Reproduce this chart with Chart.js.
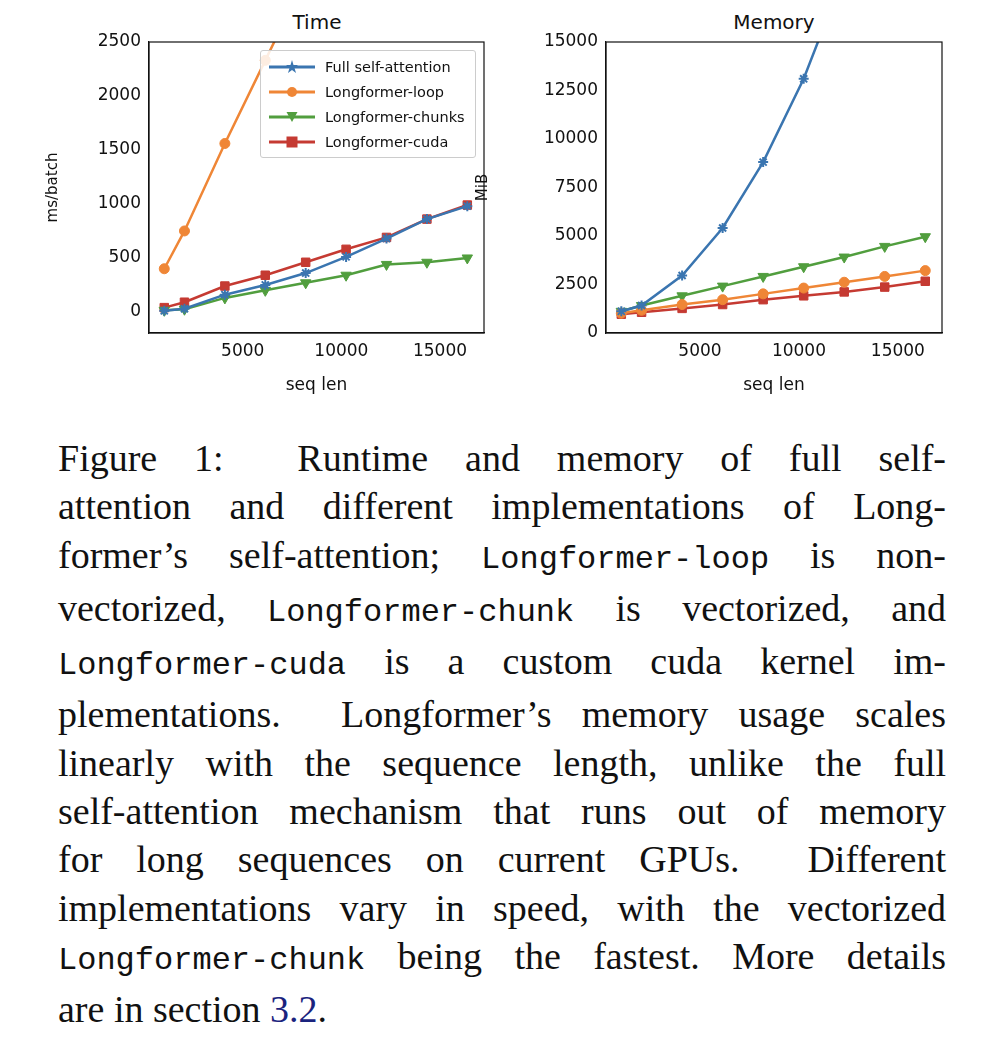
<!DOCTYPE html>
<html>
<head>
<meta charset="utf-8">
<script src="https://cdn.jsdelivr.net/npm/chart.js@4.4.0/dist/chart.umd.min.js"></script>
<style>
  body { margin: 0; background: #fff; width: 986px; height: 1060px; position: relative; font-family: "DejaVu Sans", sans-serif; }
  .box { position: absolute; }
  .titulo { position: absolute; font-size: 20px; color: #111; text-align: center; }
  #legenda { position: absolute; left: 260px; top: 50px; width: 214px; border: 1px solid #ccc; border-radius: 3px; background: rgba(255,255,255,0.85); font-size: 14.5px; padding: 3px 0; }
  #legenda div { height: 25px; display: flex; align-items: center; }
  #legenda svg { margin: 0 8px 0 6px; }
  #legenda span { font-family: "DejaVu Sans", sans-serif; color: #111; }
  #caption { position: absolute; left: 58px; top: 434px; width: 888px; font-family: "Liberation Serif", serif; font-size: 38px; line-height: 48.3px; color: #111; }
  #caption div { text-align: justify; text-align-last: justify; white-space: nowrap; }
  #caption div.last { text-align-last: left; }
  code { font-family: "Liberation Mono", "Courier New", monospace; font-size: 32px; }
  a { color: #1a237e; text-decoration: none; }
</style>
</head>
<body>
<div class="titulo" style="left:149px; top:10px; width:336px;">Time</div>
<div class="titulo" style="left:606px; top:10px; width:336px;">Memory</div>
<div class="box" style="left:40px; top:0; width:460px; height:400px;"><canvas id="grafico-tempo"></canvas></div>
<div class="box" style="left:470px; top:0; width:490px; height:400px;"><canvas id="grafico-memoria"></canvas></div>
<div id="legenda"></div>

<div id="caption">
  <div>Figure 1: &nbsp;Runtime and memory of full self-</div>
  <div>attention and different implementations of Long-</div>
  <div>former’s self-attention; <code>Longformer-loop</code> is non-</div>
  <div>vectorized, <code>Longformer-chunk</code> is vectorized, and</div>
  <div><code>Longformer-cuda</code> is a custom cuda kernel im-</div>
  <div>plementations. &nbsp;Longformer’s memory usage scales</div>
  <div>linearly with the sequence length, unlike the full</div>
  <div>self-attention mechanism that runs out of memory</div>
  <div>for long sequences on current GPUs. &nbsp;Different</div>
  <div>implementations vary in speed, with the vectorized</div>
  <div><code>Longformer-chunk</code> being the fastest. More details</div>
  <div class="last">are in section <a>3.2</a>.</div>
</div>

<script>
// Dados
const seqLen = [1024, 2048, 4096, 6144, 8192, 10240, 12288, 14336, 16384]

const tempoFull = [10, 30, 160, 250, 360, 510, 680, 860, 980]
const tempoLoop = [400, 750, 1560, 2330, 3100, null, null, null, null]
const tempoChunks = [15, 25, 130, 200, 270, 340, 440, 460, 500]
const tempoCuda = [40, 90, 240, 340, 460, 580, 690, 860, 990]

const memoriaFull = [1100, 1400, 2950, 5400, 8800, 13100, 18500, null, null]
const memoriaLoop = [1000, 1150, 1450, 1700, 2000, 2300, 2600, 2900, 3200]
const memoriaChunks = [1100, 1400, 1900, 2400, 2900, 3400, 3900, 4450, 4950]
const memoriaCuda = [950, 1050, 1250, 1450, 1700, 1900, 2100, 2350, 2650]

const ticksTempo = [0, 500, 1000, 1500, 2000, 2500]
const ticksMemoria = [0, 2500, 5000, 7500, 10000, 12500, 15000]
const ticksX = [5000, 10000, 15000]

const series = [
    { nome: 'Full self-attention', cor: '#3a75b0', ponto: 'star', rot: 0, raio: 5 },
    { nome: 'Longformer-loop', cor: '#ef8636', ponto: 'circle', rot: 0, raio: 5 },
    { nome: 'Longformer-chunks', cor: '#519e3e', ponto: 'triangle', rot: 180, raio: 6 },
    { nome: 'Longformer-cuda', cor: '#c53a32', ponto: 'rect', rot: 0, raio: 6 }
]

function montarDatasets(valores) {
    return series.map((s, i) => ({
        label: s.nome,
        data: seqLen.map((x, j) => ({ x: x, y: valores[i][j] })),
        borderColor: s.cor,
        backgroundColor: s.cor,
        borderWidth: 2.5,
        pointStyle: s.ponto,
        pointRotation: s.rot,
        pointRadius: s.raio,
        pointBorderWidth: s.ponto == 'star' ? 2 : 1,
        spanGaps: false
    }))
}

const fonteTick = { family: 'DejaVu Sans', size: 17 }

function getOpcoes(ticksY, yMin, yMax, tituloY, larguraY, padDireita) {
    return {
        responsive: true,
        maintainAspectRatio: false,
        animation: false,
        layout: { padding: { top: 42, right: padDireita, left: 0, bottom: 0 } },
        plugins: { legend: { display: false }, tooltip: { enabled: false } },
        scales: {
            x: {
                type: 'linear', min: 250, max: 17230,
                afterBuildTicks: (ax) => { ax.ticks = ticksX.map(v => ({ value: v })) },
                afterFit: (ax) => { ax.height = 67 },
                grid: { display: false, drawTicks: true, tickLength: 5, tickColor: '#111' },
                border: { color: '#111', width: 1.2 },
                ticks: { font: fonteTick, color: '#111', maxRotation: 0, padding: 3, callback: (v) => String(v) },
                title: { display: true, text: 'seq len', font: fonteTick, color: '#111', padding: { top: 0 } }
            },
            y: {
                min: yMin, max: yMax,
                afterBuildTicks: (ax) => { ax.ticks = ticksY.map(v => ({ value: v })) },
                afterFit: (ax) => { ax.width = larguraY },
                grid: { display: false, drawTicks: true, tickLength: 5, tickColor: '#111' },
                border: { color: '#111', width: 1.2 },
                ticks: { font: fonteTick, color: '#111', padding: 3, callback: (v) => String(v) },
                title: { display: true, text: tituloY, font: { family: 'DejaVu Sans', size: 15 }, color: '#111', padding: { bottom: 6 } }
            }
        }
    }
}

// Moldura completa (topo e direita) como no matplotlib
const moldura = {
    id: 'moldura',
    afterDraw(chart) {
        const a = chart.chartArea, c = chart.ctx
        c.save()
        c.strokeStyle = '#111'
        c.lineWidth = 1.2
        c.strokeRect(a.left, a.top, a.right - a.left, a.bottom - a.top)
        c.restore()
    }
}

new Chart(document.getElementById('grafico-tempo'), {
    type: 'line',
    data: { datasets: montarDatasets([tempoFull, tempoLoop, tempoChunks, tempoCuda]) },
    options: getOpcoes(ticksTempo, -195, 2500, 'ms/batch', 109, 16),
    plugins: [moldura]
})

new Chart(document.getElementById('grafico-memoria'), {
    type: 'line',
    data: { datasets: montarDatasets([memoriaFull, memoriaLoop, memoriaChunks, memoriaCuda]) },
    options: getOpcoes(ticksMemoria, -20, 15000, 'MiB', 136, 18),
    plugins: [moldura]
})

// Legenda em HTML
const legenda = document.getElementById('legenda')
const formas = {
    star: '<path d="M25 3 L26.5 8 L31 8 L27.5 11 L29 16 L25 13 L21 16 L22.5 11 L19 8 L23.5 8 Z"/>',
    circle: '<circle cx="25" cy="10" r="5"/>',
    triangle: '<path d="M19.5 5 L30.5 5 L25 15 Z"/>',
    rect: '<rect x="19.5" y="4.5" width="11" height="11"/>'
}
series.forEach(s => {
    const linha = document.createElement('div')
    linha.innerHTML = `<svg width="50" height="20"><line x1="2" y1="10" x2="48" y2="10" stroke="${s.cor}" stroke-width="3"/><g fill="${s.cor}">${formas[s.ponto]}</g></svg><span>${s.nome}</span>`
    legenda.appendChild(linha)
})
</script>
</body>
</html>
